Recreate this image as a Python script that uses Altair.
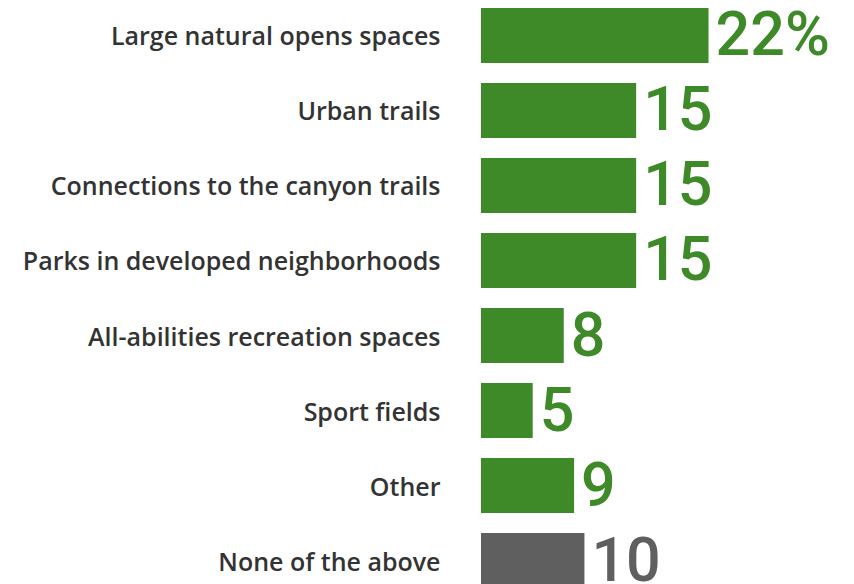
import altair as alt
import pandas as pd

categories = [
    "Large natural opens spaces",
    "Urban trails",
    "Connections to the canyon trails",
    "Parks in developed neighborhoods",
    "All-abilities recreation spaces",
    "Sport fields",
    "Other",
    "None of the above",
]
values = [22, 15, 15, 15, 8, 5, 9, 10]
value_labels = ["22%", "15", "15", "15", "8", "5", "9", "10"]
groups = ["option", "option", "option", "option", "option", "option", "option", "none"]

df = pd.DataFrame({"cat": categories, "val": values, "lab": value_labels, "grp": groups})

color_scale = alt.Scale(domain=["option", "none"], range=["#3f8a28", "#5f5f5f"])

y = alt.Y(
    "cat:N",
    sort=categories,
    title=None,
    scale=alt.Scale(paddingInner=0.267, paddingOuter=0),
    axis=alt.Axis(
        domain=False,
        ticks=False,
        tickSize=0,
        labelPadding=41,
        labelOffset=2,
        labelFont="Open Sans",
        labelFontSize=25,
        labelFontWeight=600,
        labelColor="#333333",
        labelLimit=470,
        grid=False,
    ),
)
x = alt.X("val:Q", scale=alt.Scale(domain=[0, 35]), axis=None)

bars = alt.Chart(df).mark_bar().encode(
    y=y, x=x, color=alt.Color("grp:N", scale=color_scale, legend=None)
)
texts = alt.Chart(df).mark_text(
    align="left", baseline="middle", dx=7, dy=2, font="Roboto", fontSize=61, fontWeight=500
).encode(
    y=alt.Y("cat:N", sort=categories),
    x="val:Q",
    text="lab:N",
    color=alt.Color("grp:N", scale=color_scale, legend=None),
)

chart = (
    alt.layer(bars, texts)
    .properties(
        width=362,
        height=580,
        autosize=alt.AutoSizeParams(type="none"),
        padding={"left": 473, "top": 0, "right": 3, "bottom": 0},
        background="white",
    )
    .configure_view(stroke=None)
)

chart.save("out.html", embed_options={"renderer": "svg", "actions": False})
